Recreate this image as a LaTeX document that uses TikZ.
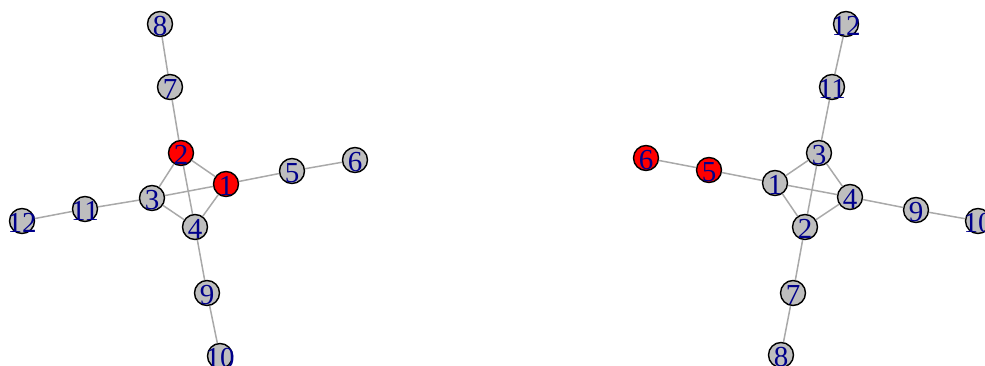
\documentclass[tikz,border=0pt]{standalone}
\usepackage{fontspec}
\setmainfont{Liberation Serif}
\definecolor{vgray}{HTML}{BEBEBE}
\definecolor{egray}{HTML}{A9A9A9}
\definecolor{lblue}{HTML}{00008B}
\begin{document}
\begin{tikzpicture}[x=1pt,y=-1pt,
  v/.style={circle,draw=black,line width=1.4pt,fill=vgray,minimum size=25pt,inner sep=0pt,
    label={[text=lblue,font=\fontsize{29}{29}\selectfont,inner sep=0pt,yshift=-2pt]center:#1}},
  vr/.style={v=#1,fill=red},
  e/.style={draw=egray,line width=1.5pt}]
\useasboundingbox (0,0) rectangle (985,366);
\clip (0,0) rectangle (985,366);
% left graph
\node[v=8]   (L8)  at (160,24)  {};
\node[v=7]   (L7)  at (170,87)  {};
\node[vr=2]  (L2)  at (181,153) {};
\node[vr=1]  (L1)  at (226,184) {};
\node[v=5]   (L5)  at (292,171) {};
\node[v=6]   (L6)  at (355,160) {};
\node[v=3]   (L3)  at (152,198) {};
\node[v=11]  (L11) at (85,209)  {};
\node[v=12]  (L12) at (22,221)  {};
\node[v=4]   (L4)  at (195,227) {};
\node[v=9]   (L9)  at (207,293) {};
\node[v=10]  (L10) at (220,356) {};
% right graph
\node[v=12]  (R12) at (846,24)  {};
\node[v=11]  (R11) at (832,87)  {};
\node[v=3]   (R3)  at (819,153) {};
\node[v=1]   (R1)  at (775,183) {};
\node[vr=5]  (R5)  at (709,170) {};
\node[vr=6]  (R6)  at (646,158) {};
\node[v=4]   (R4)  at (850,197) {};
\node[v=9]   (R9)  at (916,210) {};
\node[v=10]  (R10) at (978,221) {};
\node[v=2]   (R2)  at (805,227) {};
\node[v=7]   (R7)  at (793,293) {};
\node[v=8]   (R8)  at (781,355) {};
% edges
\foreach \a/\b in {L8/L7,L7/L2,L2/L1,L2/L3,L2/L4,L1/L3,L1/L4,L1/L5,L5/L6,L3/L4,L3/L11,L11/L12,L4/L9,L9/L10,
  R12/R11,R11/R3,R3/R1,R3/R4,R3/R2,R1/R5,R5/R6,R1/R4,R1/R2,R4/R9,R9/R10,R2/R4,R2/R7,R7/R8}
  \draw[e] (\a) -- (\b);
\end{tikzpicture}
\end{document}
